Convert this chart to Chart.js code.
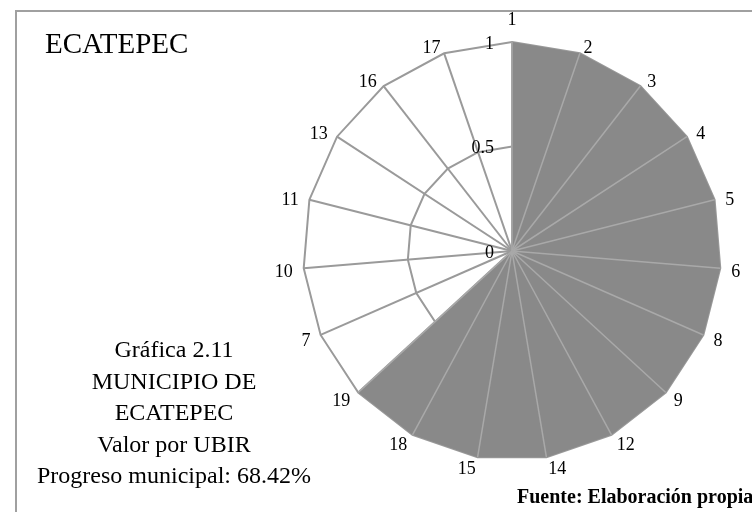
<!DOCTYPE html>
<html>
<head>
<meta charset="utf-8">
<script src="https://cdn.jsdelivr.net/npm/chart.js@4/dist/chart.umd.min.js"></script>
<style>
    html, body { margin: 0; padding: 0; background: #fff; }
    #wrap { position: relative; width: 752px; height: 512px; }
</style>
</head>
<body>
<div id="wrap"><canvas id="grafica" width="752" height="512"></canvas></div>
<script>
const ubirLabels = ['1', '2', '3', '4', '5', '6', '8', '9', '12', '14', '15', '18', '19', '7', '10', '11', '13', '16', '17'];
const ubirValores = [1, 1, 1, 1, 1, 1, 1, 1, 1, 1, 1, 1, 1, 0, 0, 0, 0, 0, 0];
const tickValores = [0, 0.5, 1];
const tickTextos = ['0', '0.5', '1'];
const tituloTexto = 'ECATEPEC';
const bloqueTextos = ['Gráfica 2.11', 'MUNICIPIO DE', 'ECATEPEC', 'Valor por UBIR', 'Progreso municipal: 68.42%'];
const fuenteTexto = 'Fuente: Elaboración propia';

const serif = '"Liberation Serif", "Times New Roman", serif';

// draws the frame, texts, tick labels and point labels, plus the spokes over the fill
let extrasPlugin = {
    id: 'extras',
    afterDatasetsDraw(chart) {
        let ctx = chart.ctx;
        let scale = chart.scales.r;
        ctx.save();
        ctx.strokeStyle = '#a9a9a9';
        ctx.lineWidth = 1.5;
        ubirValores.forEach((v, i) => {
            if (v <= 0) return;
            let p = scale.getPointPosition(i, scale.getDistanceFromCenterForValue(v));
            ctx.beginPath();
            ctx.moveTo(scale.xCenter, scale.yCenter);
            ctx.lineTo(p.x, p.y);
            ctx.stroke();
        });
        ctx.restore();
    },
    afterDraw(chart) {
        let ctx = chart.ctx;
        let scale = chart.scales.r;
        ctx.save();

        // outer frame
        ctx.strokeStyle = '#a0a0a0';
        ctx.lineWidth = 2;
        ctx.beginPath();
        ctx.moveTo(16, 520);
        ctx.lineTo(16, 11);
        ctx.lineTo(760, 11);
        ctx.stroke();

        ctx.fillStyle = '#000';

        // tick labels on the top spoke
        ctx.font = '18px ' + serif;
        ctx.textAlign = 'right';
        ctx.textBaseline = 'middle';
        tickValores.forEach((v, i) => {
            let y = scale.yCenter - scale.getDistanceFromCenterForValue(v) + 2;
            ctx.fillText(tickTextos[i], scale.xCenter - 18, y);
        });

        // point labels
        ctx.textAlign = 'center';
        let r = scale.drawingArea;
        ubirLabels.forEach((lab, i) => {
            let p = scale.getPointPosition(i, r);
            let ux = (p.x - scale.xCenter) / r;
            let uy = (p.y - scale.yCenter) / r;
            let w = ctx.measureText(lab).width;
            let x, y;
            if (Math.abs(ux) < 0.05) {
                x = p.x;
                y = p.y + uy * 22;
            } else {
                x = p.x + Math.sign(ux) * w / 2 + 11 * ux;
                y = p.y + 3 + 9 * uy;
            }
            ctx.fillText(lab, x, y);
        });

        // title
        ctx.textAlign = 'left';
        ctx.textBaseline = 'alphabetic';
        ctx.font = '29px ' + serif;
        ctx.fillText(tituloTexto, 45, 53);

        // caption block
        ctx.textAlign = 'center';
        ctx.font = '24px ' + serif;
        bloqueTextos.forEach((t, i) => {
            ctx.fillText(t, 174, 357 + i * 31.5);
        });

        // source
        ctx.textAlign = 'left';
        ctx.font = 'bold 20px ' + serif;
        ctx.fillText(fuenteTexto, 517, 503);

        ctx.restore();
    }
};

let context = document.getElementById('grafica').getContext('2d');
let grafica = new Chart(context, {
    type: 'radar',
    data: {
        labels: ubirLabels,
        datasets: [{
            label: 'Valor por UBIR',
            data: ubirValores,
            fill: true,
            backgroundColor: '#898989',
            borderColor: '#898989',
            borderWidth: 0,
            pointRadius: 0,
            clip: false
        }]
    },
    options: {
        responsive: false,
        animation: false,
        layout: {
            padding: { left: 303, top: 42, right: 31, bottom: 52 }
        },
        plugins: {
            legend: { display: false },
            tooltip: { enabled: false }
        },
        scales: {
            r: {
                min: 0,
                max: 1,
                ticks: { display: false, stepSize: 0.5 },
                pointLabels: { display: false },
                grid: { color: '#9a9a9a', lineWidth: 2 },
                angleLines: { color: '#9a9a9a', lineWidth: 2 }
            }
        }
    },
    plugins: [extrasPlugin]
});
</script>
</body>
</html>
